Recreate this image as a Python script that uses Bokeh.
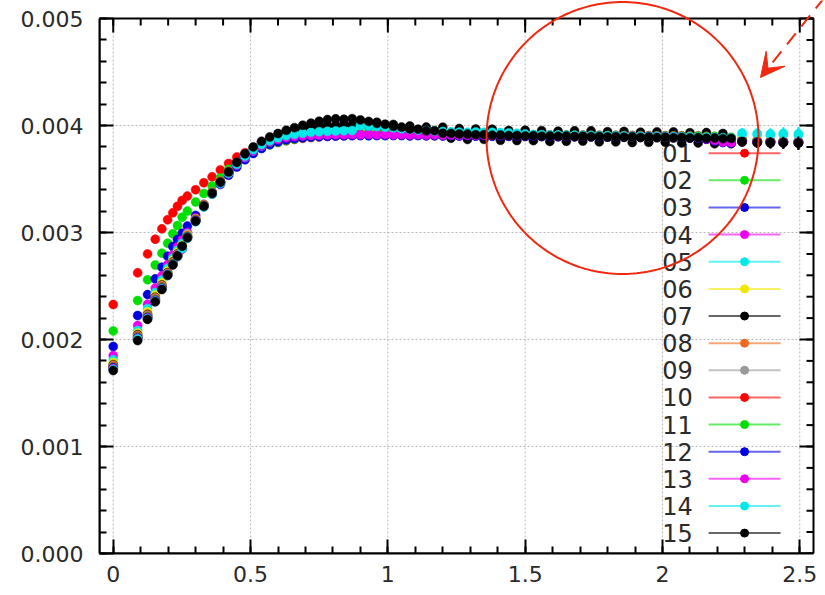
import numpy as np
from bokeh.plotting import figure
from bokeh.models import (Range1d, FixedTicker, PrintfTickFormatter,
                          ColumnDataSource, Arrow, VeeHead, PolyAnnotation,
                          BoxAnnotation)
from bokeh.core.properties import value
from bokeh.embed import file_html
from bokeh.resources import INLINE

# ---------------- data (y in units of 1e-6) ----------------
x = [0, 0.089, 0.125, 0.153, 0.177, 0.198, 0.217, 0.234, 0.251,
     0.27, 0.30, 0.33, 0.36, 0.39, 0.42, 0.45, 0.48, 0.51, 0.54, 0.57,
     0.60, 0.63, 0.66, 0.69, 0.72, 0.75, 0.78, 0.81, 0.84, 0.87,
     0.90, 0.93, 0.96, 0.99, 1.02, 1.05, 1.08, 1.11, 1.14, 1.17,
     1.20, 1.23, 1.26, 1.29, 1.32, 1.35, 1.38, 1.41, 1.44, 1.47,
     1.50, 1.53, 1.56, 1.59, 1.62, 1.65, 1.68, 1.71, 1.74, 1.77,
     1.80, 1.83, 1.86, 1.89, 1.92, 1.95, 1.98, 2.01, 2.04, 2.07,
     2.10, 2.13, 2.16, 2.19, 2.22, 2.25,
     2.29, 2.345, 2.393, 2.44, 2.495]

err = [4, 5, 5, 6, 6, 6, 7, 7, 7,
       8, 8, 8, 8, 8, 8, 8, 8, 8, 8, 8,
       12, 12, 12, 12, 12, 12, 12, 12, 12, 12,
       14, 14, 14, 14, 14, 14, 14, 14, 14, 14,
       20, 20, 20, 20, 20, 20, 20, 20, 20, 20,
       20, 20, 20, 20, 20, 20, 20, 20, 20, 20,
       22, 22, 22, 22, 22, 22, 22, 22, 22, 22,
       26, 28, 30, 32, 34, 36,
       42, 48, 52, 56, 62]

s01 = [2327, 2623, 2800, 2937, 3034, 3119, 3184, 3245, 3300,
       3340, 3400, 3465, 3520, 3585, 3645, 3705, 3745, 3775, 3800, 3822,
       3842, 3858, 3870, 3880, 3888, 3894, 3899, 3903, 3906, 3909,
       3912, 3910, 3914, 3916, 3913, 3917, 3914, 3918, 3915, 3912,
       3916, 3913, 3910, 3914, 3911, 3908, 3912, 3909, 3906, 3910,
       3907, 3904, 3908, 3905, 3902, 3906, 3903, 3900, 3904, 3901,
       3898, 3902, 3899, 3896, 3900, 3897, 3894, 3898, 3895, 3892,
       3896, 3893, 3890, 3894, 3888, 3885,
       3870, 3860, 3855, 3850, 3848]
s02 = [2080, 2364, 2558, 2696, 2807, 2900, 2988, 3065, 3143,
       3200, 3285, 3365, 3435, 3510, 3590, 3655, 3710, 3755, 3790, 3820,
       3843, 3860, 3874, 3885, 3893, 3899, 3904, 3908, 3911, 3914,
       3916, 3919, 3917, 3921, 3918, 3922, 3919, 3916, 3920, 3917,
       3914, 3918, 3915, 3912, 3916, 3913, 3910, 3914, 3911, 3915,
       3912, 3909, 3913, 3910, 3907, 3911, 3908, 3905, 3909, 3906,
       3903, 3907, 3904, 3901, 3905, 3902, 3899, 3903, 3900, 3897,
       3901, 3898, 3895, 3899, 3893, 3890,
       3872, 3862, 3858, 3852, 3850]
s03 = [1935, 2224, 2420, 2567, 2676, 2779, 2869, 2935, 2993,
       3060, 3160, 3262, 3360, 3450, 3535, 3612, 3680, 3738, 3785, 3822,
       3848, 3866, 3878, 3886, 3892, 3896, 3899, 3901, 3903, 3905,
       3906, 3904, 3907, 3905, 3908, 3906, 3903, 3907, 3904, 3906,
       3903, 3906, 3902, 3905, 3901, 3904, 3900, 3903, 3899, 3902,
       3898, 3901, 3897, 3900, 3896, 3899, 3895, 3898, 3894, 3897,
       3893, 3896, 3892, 3895, 3890, 3893, 3888, 3891, 3886, 3889,
       3884, 3887, 3880, 3860, 3845, 3838,
       3858, 3855, 3852, 3850, 3848]
s04 = [1850, 2130, 2330, 2480, 2595, 2700, 2790, 2865, 2930,
       3000, 3135, 3255, 3365, 3462, 3550, 3630, 3700, 3760, 3808, 3845,
       3870, 3886, 3897, 3905, 3910, 3914, 3917, 3919, 3921, 3922,
       3923, 3921, 3924, 3922, 3925, 3922, 3920, 3923, 3920, 3922,
       3931, 3934, 3924, 3927, 3915, 3919, 3913, 3916, 3907, 3910,
       3903, 3909, 3902, 3908, 3898, 3904, 3899, 3903, 3895, 3899,
       3893, 3899, 3892, 3898, 3888, 3894, 3889, 3893, 3885, 3889,
       3883, 3880, 3872, 3860, 3848, 3842,
       3852, 3848, 3850, 3846, 3845]
s05 = [1810, 2085, 2290, 2440, 2555, 2665, 2760, 2835, 2900,
       2985, 3125, 3250, 3362, 3462, 3552, 3634, 3705, 3765, 3812, 3850,
       3877, 3895, 3908, 3916, 3921, 3925, 3928, 3930, 3932, 3933,
       3945, 3946, 3944, 3947, 3945, 3944, 3942, 3940, 3938, 3936,
       3932, 3928, 3925, 3921, 3918, 3915, 3913, 3911, 3909, 3907,
       3905, 3904, 3903, 3902, 3901, 3900, 3899, 3898, 3897, 3896,
       3895, 3894, 3893, 3892, 3891, 3890, 3889, 3888, 3887, 3886,
       3885, 3884, 3883, 3881, 3879, 3877,
       3915, 3912, 3910, 3913, 3909]
s06 = [1785, 2060, 2260, 2415, 2530, 2640, 2740, 2815, 2880,
       2980, 3125, 3255, 3370, 3472, 3562, 3642, 3712, 3770, 3815, 3850,
       3876, 3893, 3904, 3912, 3917, 3921, 3924, 3926, 3928, 3929,
       3930, 3928, 3931, 3929, 3932, 3930, 3927, 3931, 3928, 3930,
       3938, 3928, 3931, 3919, 3921, 3912, 3917, 3911, 3914, 3906,
       3910, 3903, 3909, 3900, 3904, 3897, 3903, 3898, 3902, 3895,
       3900, 3893, 3899, 3890, 3894, 3887, 3893, 3888, 3892, 3885,
       3890, 3883, 3889, 3879, 3882, 3874,
       3870, 3860, 3855, 3852, 3850]
s07 = [1765, 2045, 2235, 2395, 2510, 2625, 2725, 2800, 2870,
       2960, 3115, 3255, 3375, 3478, 3570, 3655, 3730, 3790, 3838, 3875,
       3905, 3925, 3952, 3962, 3983, 3988, 4002, 4000, 4012, 4006,
       4040, 3995, 4030, 3965, 4010, 3935, 3995, 3915, 3985, 3905,
       3984, 3882, 3971, 3870, 3967, 3871, 3966, 3862, 3954, 3860,
       3956, 3859, 3952, 3851, 3947, 3853, 3950, 3854, 3950, 3847,
       3942, 3847, 3944, 3841, 3937, 3843, 3940, 3844, 3940, 3837,
       3932, 3837, 3934, 3830, 3925, 3830,
       3845, 3838, 3836, 3840, 3835]
s08 = [1760, 2038, 2230, 2390, 2505, 2620, 2720, 2795, 2865,
       2975, 3126, 3262, 3380, 3482, 3572, 3652, 3720, 3776, 3820, 3853,
       3878, 3893, 3903, 3910, 3915, 3918, 3920, 3922, 3923, 3924,
       3925, 3923, 3926, 3924, 3927, 3924, 3922, 3925, 3922, 3924,
       3934, 3933, 3922, 3924, 3917, 3921, 3911, 3913, 3909, 3912,
       3906, 3908, 3900, 3905, 3900, 3906, 3897, 3900, 3897, 3901,
       3896, 3898, 3890, 3895, 3890, 3896, 3887, 3890, 3887, 3891,
       3886, 3888, 3880, 3884, 3878, 3883,
       3862, 3855, 3852, 3850, 3848]
s09 = [1750, 2030, 2222, 2382, 2498, 2614, 2715, 2790, 2860,
       2970, 3122, 3258, 3376, 3478, 3568, 3648, 3718, 3774, 3818, 3852,
       3877, 3892, 3902, 3909, 3914, 3917, 3919, 3921, 3922, 3923,
       3922, 3924, 3921, 3923, 3920, 3922, 3919, 3921, 3918, 3920,
       3917, 3919, 3916, 3918, 3915, 3917, 3914, 3916, 3913, 3915,
       3912, 3914, 3911, 3913, 3910, 3912, 3909, 3911, 3908, 3910,
       3907, 3909, 3906, 3908, 3905, 3907, 3904, 3906, 3903, 3905,
       3902, 3904, 3898, 3890, 3882, 3875,
       3860, 3852, 3850, 3848, 3846]
s10 = [1745, 2025, 2215, 2375, 2490, 2610, 2710, 2786, 2856,
       2965, 3118, 3254, 3372, 3474, 3564, 3645, 3715, 3772, 3816, 3850,
       3875, 3890, 3900, 3907, 3911, 3914, 3916, 3917, 3918, 3919,
       3918, 3920, 3917, 3919, 3916, 3918, 3915, 3917, 3914, 3916,
       3913, 3915, 3912, 3914, 3911, 3913, 3910, 3912, 3909, 3911,
       3908, 3910, 3907, 3909, 3906, 3908, 3905, 3907, 3904, 3906,
       3903, 3905, 3902, 3904, 3901, 3903, 3900, 3902, 3899, 3901,
       3898, 3900, 3894, 3886, 3878, 3870,
       3858, 3850, 3848, 3846, 3844]
s11 = [1740, 2020, 2210, 2370, 2485, 2606, 2706, 2782, 2852,
       2960, 3115, 3250, 3368, 3470, 3560, 3642, 3712, 3770, 3815, 3850,
       3874, 3889, 3899, 3906, 3910, 3913, 3915, 3916, 3917, 3918,
       3917, 3919, 3916, 3918, 3915, 3917, 3914, 3916, 3913, 3915,
       3912, 3914, 3911, 3913, 3910, 3912, 3909, 3911, 3908, 3910,
       3907, 3909, 3906, 3908, 3905, 3907, 3904, 3906, 3903, 3905,
       3902, 3904, 3901, 3903, 3900, 3902, 3899, 3901, 3898, 3900,
       3897, 3899, 3893, 3885, 3877, 3869,
       3856, 3849, 3847, 3845, 3843]
s12 = [1735, 2015, 2205, 2365, 2480, 2602, 2702, 2778, 2848,
       2955, 3110, 3246, 3364, 3466, 3556, 3638, 3710, 3768, 3814, 3848,
       3870, 3884, 3893, 3899, 3903, 3905, 3907, 3908, 3909, 3910,
       3909, 3911, 3908, 3910, 3907, 3909, 3906, 3908, 3905, 3907,
       3904, 3906, 3903, 3905, 3902, 3904, 3901, 3903, 3900, 3902,
       3899, 3901, 3898, 3900, 3897, 3899, 3896, 3898, 3895, 3897,
       3894, 3896, 3893, 3895, 3892, 3894, 3891, 3893, 3890, 3888,
       3885, 3880, 3872, 3855, 3840, 3835,
       3852, 3848, 3845, 3843, 3842]
s13 = [1728, 2010, 2200, 2360, 2476, 2598, 2698, 2774, 2845,
       2950, 3105, 3242, 3360, 3462, 3553, 3636, 3708, 3768, 3815, 3850,
       3872, 3887, 3897, 3903, 3907, 3910, 3912, 3913, 3914, 3915,
       3914, 3916, 3913, 3915, 3912, 3914, 3911, 3913, 3910, 3912,
       3909, 3911, 3908, 3910, 3907, 3909, 3906, 3908, 3905, 3907,
       3904, 3906, 3903, 3905, 3902, 3904, 3901, 3903, 3900, 3902,
       3899, 3901, 3898, 3900, 3897, 3899, 3896, 3898, 3895, 3893,
       3890, 3886, 3878, 3862, 3845, 3840,
       3850, 3846, 3844, 3842, 3840]
s14 = [1720, 2005, 2195, 2358, 2472, 2600, 2700, 2776, 2850,
       2945, 3100, 3238, 3358, 3462, 3555, 3640, 3715, 3775, 3822, 3858,
       3886, 3905, 3918, 3928, 3936, 3942, 3946, 3949, 3951, 3953,
       4000, 3995, 3990, 3984, 3978, 3970, 3964, 3958, 3953, 3949,
       3944, 3941, 3938, 3936, 3940, 3938, 3936, 3934, 3931, 3928,
       3920, 3916, 3914, 3912, 3911, 3909, 3908, 3906, 3905, 3904,
       3903, 3902, 3900, 3899, 3898, 3897, 3896, 3895, 3894, 3893,
       3892, 3891, 3890, 3888, 3886, 3884,
       3930, 3926, 3922, 3927, 3924]
s15 = [1710, 1990, 2188, 2352, 2467, 2600, 2698, 2780, 2872,
       2950, 3105, 3245, 3365, 3470, 3565, 3655, 3735, 3800, 3852, 3893,
       3925, 3955, 3980, 4002, 4022, 4040, 4055, 4062, 4058, 4064,
       4052, 4038, 4020, 4012, 3992, 3985, 3968, 3966, 3950, 3952,
       3928, 3926, 3921, 3920, 3914, 3915, 3909, 3911, 3906, 3907,
       3903, 3905, 3900, 3903, 3899, 3902, 3897, 3900, 3895, 3898,
       3893, 3896, 3891, 3894, 3889, 3892, 3887, 3890, 3885, 3888,
       3883, 3886, 3881, 3883, 3877, 3879,
       3850, 3842, 3840, 3838, 3836]

series_names = ["01", "02", "03", "04", "05", "06", "07", "08", "09",
                "10", "11", "12", "13", "14", "15"]
series_values = [s01, s02, s03, s04, s05, s06, s07, s08, s09,
                 s10, s11, s12, s13, s14, s15]
series_colors = ["#ff0000", "#00e000", "#0000e0", "#ee00ee", "#00e8e8",
                 "#f0e800", "#000000", "#ee6a20", "#999999",
                 "#ff0000", "#00e000", "#0000e0", "#ee00ee", "#00e8e8",
                 "#000000"]

xticks = [0, 0.5, 1, 1.5, 2, 2.5]
xtick_labels = ["0", "0.5", "1", "1.5", "2", "2.5"]
yticks = [0.0, 0.001, 0.002, 0.003, 0.004, 0.005]

# ---------------- geometry ----------------
FONT = "DejaVu Sans"
TXT = "#2a2a2a"
W, H = 825, 595
LEFT, BOTTOM = 99, 42            # borders holding the labelled axes
BOX_W, BOX_H = 714, 535          # size of the boxed plotting area in px
X0, X1 = -0.05, 2.55             # data limits of the box
Y0, Y1 = 0.0, 0.005
PX_X = BOX_W / (X1 - X0)
PX_Y = BOX_H / (Y1 - Y0)
# the frame reaches the top/right canvas edge so the red mark is not clipped
x_end = X0 + (W - LEFT) / PX_X
y_end = Y0 + (H - BOTTOM) / PX_Y

p = figure(width=W, height=H, output_backend="svg", toolbar_location=None,
           x_range=Range1d(X0, x_end), y_range=Range1d(Y0, y_end),
           min_border_left=LEFT, min_border_right=0, min_border_top=0,
           min_border_bottom=BOTTOM)
p.background_fill_color = "white"
p.border_fill_color = "white"
p.outline_line_color = None
p.xgrid.visible = False
p.ygrid.visible = False

x_minor = [round(0.1 * i, 2) for i in range(0, 26)]
y_minor = [round(0.0002 * i, 5) for i in range(0, 26)]
xticker = FixedTicker(ticks=xticks, minor_ticks=x_minor)
yticker = FixedTicker(ticks=yticks, minor_ticks=y_minor)

MAJ, MIN = 14, 7


def style_axis(ax, ticker):
    ax.ticker = ticker
    ax.axis_line_color = "black"
    ax.axis_line_width = 2
    ax.major_tick_in = MAJ
    ax.major_tick_out = 0
    ax.minor_tick_in = MIN
    ax.minor_tick_out = 0
    ax.major_tick_line_color = "black"
    ax.minor_tick_line_color = "black"
    ax.major_tick_line_width = 2
    ax.minor_tick_line_width = 2
    ax.major_label_text_font = FONT
    ax.major_label_text_color = TXT
    ax.major_label_text_font_size = "22px"


xa = p.xaxis[0]
style_axis(xa, xticker)
xa.bounds = (X0, X1)
xa.major_label_standoff = 12
xa.major_label_overrides = dict(zip(xticks, xtick_labels))

ya = p.yaxis[0]
style_axis(ya, yticker)
ya.bounds = (Y0, Y1)
ya.major_label_standoff = 16
ya.formatter = PrintfTickFormatter(format="%.3f")

# dotted grid inside the box
p.segment(x0=xticks, y0=[Y0] * len(xticks), x1=xticks, y1=[Y1] * len(xticks),
          line_color="#b8b8b8", line_dash="2 2", line_width=1)
p.segment(x0=[X0] * len(yticks), y0=yticks, x1=[X1] * len(yticks), y1=yticks,
          line_color="#b8b8b8", line_dash="2 2", line_width=1)

# ---------------- legend text (below data) ----------------
LEG_TEXT_X = 2.11
LEG_L0, LEG_L1, LEG_M = 2.168, 2.430, 2.299
LEG_Y0, LEG_DY = 0.003741, 0.0002536
leg_y = [LEG_Y0 - i * LEG_DY for i in range(len(series_names))]
p.text(x=[LEG_TEXT_X] * len(series_names), y=leg_y, text=series_names,
       text_font=value(FONT), text_font_size="24px", text_color=TXT,
       text_align="right", text_baseline="middle")

# ---------------- data ----------------
xa_arr = np.array(x)
ea = np.array(err) * 1e-6
for vals, col in zip(series_values, series_colors):
    ya_arr = np.array(vals) * 1e-6
    src = ColumnDataSource(dict(x=xa_arr, y=ya_arr, lo=ya_arr - ea, hi=ya_arr + ea))
    p.segment(x0="x", y0="lo", x1="x", y1="hi", source=src,
              line_color=col, line_width=2)
    p.scatter(x="x", y="y", source=src, size=9, marker="circle",
              fill_color=col, line_color=col, line_width=0.5)

# ---------------- legend samples ----------------
for yy, col in zip(leg_y, series_colors):
    p.segment(x0=[LEG_L0], y0=[yy], x1=[LEG_L1], y1=[yy],
              line_color=col, line_width=2, line_alpha=0.6)
    p.scatter(x=[LEG_M], y=[yy], size=8, marker="circle",
              fill_color=col, line_color=col)

# ---------------- box: top/right edges with mirrored inward ticks ----------------
p.add_layout(BoxAnnotation(left=X0, right=X1, bottom=Y0, top=Y1,
                           fill_color=None, fill_alpha=0,
                           line_color="black", line_width=2, line_alpha=1))
p.segment(x0=xticks, y0=[Y1] * len(xticks), x1=xticks,
          y1=[Y1 - MAJ / PX_Y] * len(xticks), line_color="black", line_width=2)
p.segment(x0=x_minor, y0=[Y1] * len(x_minor), x1=x_minor,
          y1=[Y1 - MIN / PX_Y] * len(x_minor), line_color="black", line_width=2)
p.segment(x0=[X1] * len(yticks), y0=yticks, x1=[X1 - MAJ / PX_X] * len(yticks),
          y1=yticks, line_color="black", line_width=2)
p.segment(x0=[X1] * len(y_minor), y0=y_minor, x1=[X1 - MIN / PX_X] * len(y_minor),
          y1=y_minor, line_color="black", line_width=2)

# ---------------- red annotation circle + arrow ----------------
RED = "#f02810"
cx, cy, r_px = 1.8546, 0.003883, 136
th = np.linspace(0, 2 * np.pi, 241)
p.add_layout(PolyAnnotation(xs=list(cx + r_px / PX_X * np.cos(th)),
                            ys=list(cy + r_px / PX_Y * np.sin(th)),
                            fill_color=None, fill_alpha=0,
                            line_color=RED, line_alpha=1, line_width=2))
p.add_layout(Arrow(x_start=2.590, y_start=0.005196, x_end=2.357, y_end=0.0044486,
                   line_color=RED, line_width=2, line_dash="14 9",
                   end=VeeHead(size=24, fill_color=RED, line_color=RED,
                               line_width=1)))

open("out.html", "w").write(file_html(p, INLINE))
